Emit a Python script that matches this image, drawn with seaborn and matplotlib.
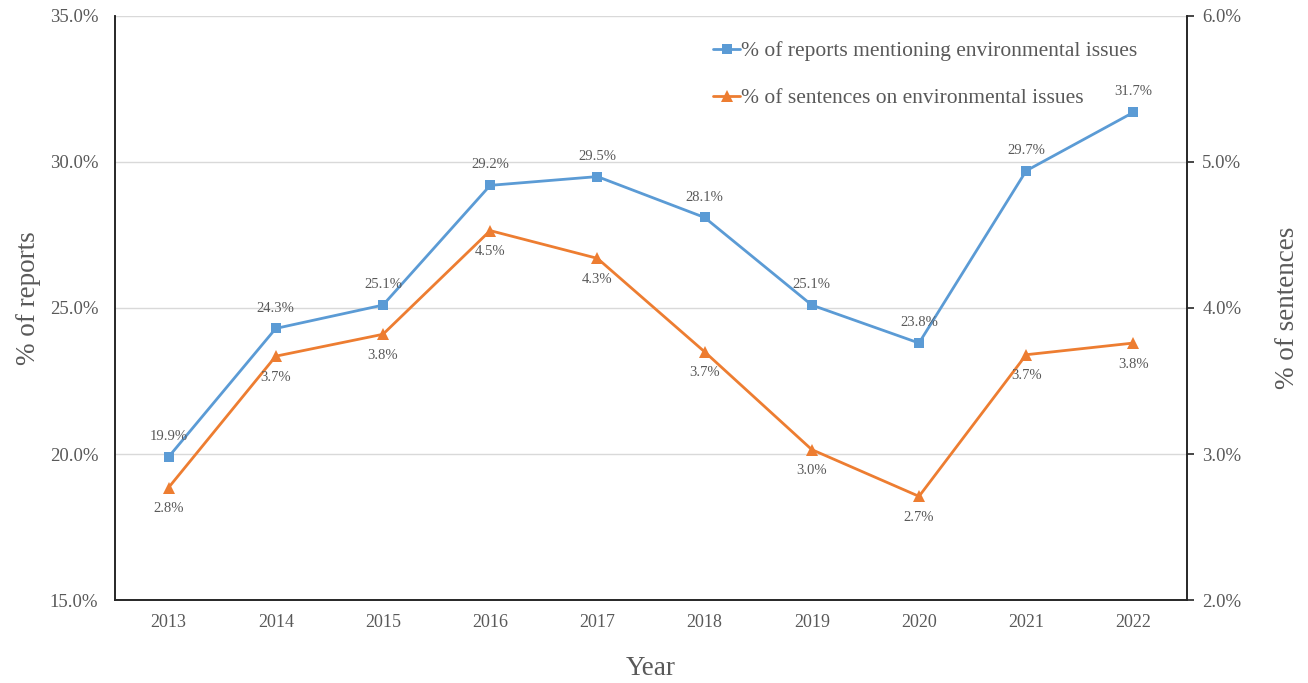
import matplotlib
matplotlib.use("Agg")
import matplotlib.pyplot as plt
import seaborn as sns
import pandas as pd
from matplotlib.ticker import FuncFormatter, MultipleLocator

years = [2013, 2014, 2015, 2016, 2017, 2018, 2019, 2020, 2021, 2022]
reports_pct = [19.9, 24.3, 25.1, 29.2, 29.5, 28.1, 25.1, 23.8, 29.7, 31.7]
sentences_pct = [2.77, 3.67, 3.82, 4.53, 4.34, 3.70, 3.03, 2.71, 3.68, 3.76]

reports_label = "% of reports mentioning environmental issues"
sentences_label = "% of sentences on environmental issues"

BLUE = "#5B9BD5"
ORANGE = "#ED7D31"
TEXT = "#595959"
GRID = "#D9D9D9"

sns.set_theme(style="white")
plt.rcParams["font.family"] = ["Liberation Serif", "DejaVu Serif"]

df = pd.DataFrame({"Year": years, "reports": reports_pct, "sentences": sentences_pct})

fig = plt.figure(figsize=(13.08, 6.83), dpi=100)
ax = fig.add_axes([0.0879, 0.1215, 0.8196, 0.8551])
ax2 = ax.twinx()

sns.lineplot(data=df, x="Year", y="reports", ax=ax, color=BLUE, marker="s",
             markersize=7.5, markeredgewidth=0, linewidth=2, label=reports_label,
             legend=False)
sns.lineplot(data=df, x="Year", y="sentences", ax=ax2, color=ORANGE, marker="^",
             markersize=8.5, markeredgewidth=0, linewidth=2, label=sentences_label,
             legend=False)

ax.set_xlim(2012.5, 2022.5)
ax.set_ylim(15, 35)
ax2.set_ylim(2, 6)
ax.yaxis.set_major_locator(MultipleLocator(5))
ax2.yaxis.set_major_locator(MultipleLocator(1))
ax.set_xticks(years)
ax.set_xticklabels([str(y) for y in years])

pct = FuncFormatter(lambda v, _: f"{v:.1f}%")
ax.yaxis.set_major_formatter(pct)
ax2.yaxis.set_major_formatter(pct)

ax.grid(axis="y", color=GRID, linewidth=1)
ax.set_axisbelow(True)

for a in (ax, ax2):
    a.spines["top"].set_visible(False)
    for s in ("left", "right", "bottom"):
        a.spines[s].set_color("#262626")
        a.spines[s].set_linewidth(1.2)

ax.tick_params(axis="x", length=0, labelsize=13, labelcolor=TEXT, pad=10)
ax.tick_params(axis="y", length=0, labelsize=13.5, labelcolor=TEXT, pad=12)
ax2.tick_params(axis="y", length=5, width=1.2, color="#262626", direction="out",
                labelsize=13.5, labelcolor=TEXT, pad=6)

ax.set_xlabel("Year", fontsize=19.5, color=TEXT, labelpad=18)
ax.set_ylabel("% of reports", fontsize=19.5, color=TEXT)
ax.yaxis.set_label_coords(-0.069, 0.517)
ax2.set_ylabel("% of sentences", fontsize=19.5, color=TEXT, labelpad=24)

for x, v in zip(years, reports_pct):
    ax.annotate(f"{v:.1f}%", (x, v), xytext=(0, 10), textcoords="offset points",
                ha="center", va="bottom", fontsize=10.5, color=TEXT)
for x, v in zip(years, sentences_pct):
    ax2.annotate(f"{v:.1f}%", (x, v), xytext=(0, -10.5), textcoords="offset points",
                 ha="center", va="top", fontsize=10.5, color=TEXT)

h1, l1 = ax.get_legend_handles_labels()
h2, l2 = ax2.get_legend_handles_labels()
leg = ax2.legend(h1 + h2, l1 + l2, loc="upper right", bbox_to_anchor=(0.972, 0.99),
                 frameon=False, fontsize=15.5, labelcolor=TEXT, labelspacing=1.25,
                 handlelength=1.25, handletextpad=0.05)

fig.savefig("out.png", dpi=100)
